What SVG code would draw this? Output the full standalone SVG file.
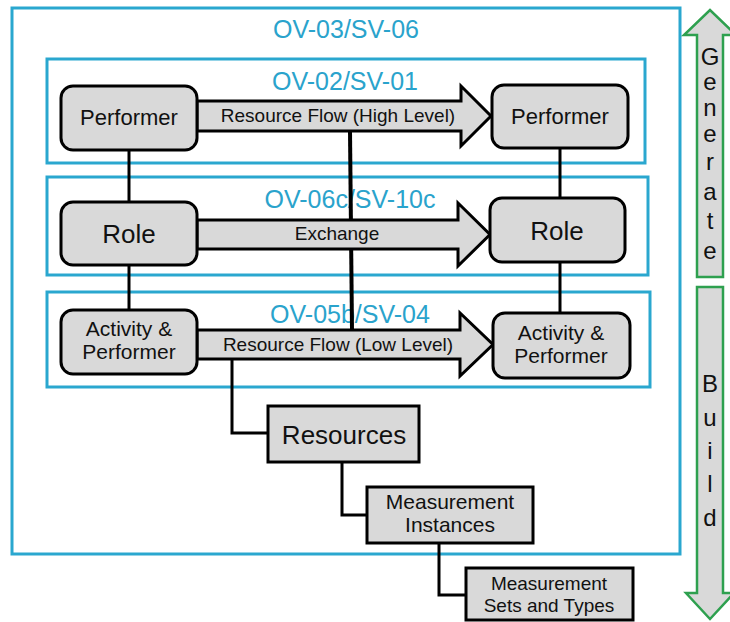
<svg xmlns="http://www.w3.org/2000/svg" width="730" height="622" viewBox="0 0 730 622">
<style>
.frame{fill:none;stroke:#2aa7cf;stroke-width:3}
.title{font-family:"Liberation Sans",Arial,sans-serif;font-size:25px;fill:#2aa3cc;text-anchor:middle}
.node{fill:#d9d9d9;stroke:#000;stroke-width:3}
.lbl{font-family:"Liberation Sans",Arial,sans-serif;fill:#111;text-anchor:middle}
.line{fill:none;stroke:#000;stroke-width:3}
.big{fill:#d9d9d9;stroke:#000;stroke-width:3;stroke-linejoin:miter}
.garrow{fill:#d9d9d9;stroke:#2ea04f;stroke-width:2.5}
.letter{font-family:"Liberation Sans",Arial,sans-serif;font-size:24px;fill:#111;text-anchor:middle}
</style>
<rect width="730" height="622" fill="#fff"/>
<g id="frames">
<rect class="frame" x="12" y="8" width="668" height="546"/>
<text class="title" x="346" y="38">OV-03/SV-06</text>
<rect class="frame" x="47" y="59" width="598" height="104"/>
<text class="title" x="345" y="90">OV-02/SV-01</text>
<rect class="frame" x="47" y="177" width="601" height="98"/>
<text class="title" x="350" y="208">OV-06c/SV-10c</text>
<rect class="frame" x="47" y="292" width="603" height="95"/>
<text class="title" x="350" y="323">OV-05b/SV-04</text>
</g>
<g id="connectors">
<line class="line" x1="129" y1="150" x2="129" y2="202"/>
<line class="line" x1="129" y1="265" x2="129" y2="310"/>
<line class="line" x1="560" y1="148" x2="560" y2="198"/>
<line class="line" x1="560" y1="262" x2="560" y2="313"/>
<line x1="350" y1="131" x2="352" y2="330" stroke="#000" stroke-width="4"/>
<polyline class="line" points="232,359 232,433 268,433"/>
<polyline class="line" points="342,462 342,515 367,515"/>
<polyline class="line" points="439,543 439,595 466,595"/>
<g id="flow-high">
<polygon class="big" points="197,101 461,101 461,86 491,116 461,146 461,131 197,131"/>
<text class="lbl" x="338" y="122" font-size="19">Resource Flow (High Level)</text>
</g>
<g id="exchange">
<polygon class="big" points="197,220 458,220 458,203 490,234.5 458,266 458,249 197,249"/>
<text class="lbl" x="337" y="240" font-size="19">Exchange</text>
</g>
<g id="flow-low">
<polygon class="big" points="197,330 460,330 460,313 493,344.5 460,376 460,359 197,359"/>
<text class="lbl" x="338" y="351" font-size="19">Resource Flow (Low Level)</text>
</g>
</g>
<g id="performer-left">
<rect class="node" x="61" y="86" width="136" height="64" rx="12"/>
<text class="lbl" x="129" y="125" font-size="22">Performer</text>
</g>
<g id="performer-right">
<rect class="node" x="492" y="85" width="136" height="63" rx="12"/>
<text class="lbl" x="560" y="124" font-size="22">Performer</text>
</g>
<g id="role-left">
<rect class="node" x="61" y="202" width="136" height="63" rx="12"/>
<text class="lbl" x="129" y="243" font-size="26">Role</text>
</g>
<g id="role-right">
<rect class="node" x="490" y="198" width="135" height="64" rx="12"/>
<text class="lbl" x="557" y="240" font-size="26">Role</text>
</g>
<g id="activity-left">
<rect class="node" x="61" y="310" width="136" height="64" rx="12"/>
<text class="lbl" x="129" y="336" font-size="21">Activity &amp;</text>
<text class="lbl" x="129" y="359" font-size="21">Performer</text>
</g>
<g id="activity-right">
<rect class="node" x="493" y="313" width="137" height="65" rx="12"/>
<text class="lbl" x="561" y="340" font-size="21">Activity &amp;</text>
<text class="lbl" x="561" y="363" font-size="21">Performer</text>
</g>
<g id="resources">
<rect class="node" x="268" y="406" width="151" height="56" stroke-width="3.5"/>
<text class="lbl" x="344" y="444" font-size="26">Resources</text>
</g>
<g id="measurement-instances">
<rect class="node" x="367" y="487" width="166" height="56" stroke-width="3.5"/>
<text class="lbl" x="450" y="509" font-size="21">Measurement</text>
<text class="lbl" x="450" y="532" font-size="21">Instances</text>
</g>
<g id="measurement-sets">
<rect class="node" x="466" y="568" width="167" height="52" stroke-width="3.5"/>
<text class="lbl" x="549" y="590" font-size="19">Measurement</text>
<text class="lbl" x="549" y="612" font-size="19">Sets and Types</text>
</g>
<g id="generate">
<polygon class="garrow" points="697,277 697,35 684,35 710,10 736,35 723,35 723,277"/>
<text class="letter" x="710" y="65">G</text>
<text class="letter" x="710" y="90">e</text>
<text class="letter" x="710" y="116">n</text>
<text class="letter" x="710" y="142">e</text>
<text class="letter" x="710" y="170">r</text>
<text class="letter" x="710" y="200">a</text>
<text class="letter" x="710" y="229">t</text>
<text class="letter" x="710" y="259">e</text>
</g>
<g id="build">
<polygon class="garrow" points="697,287 723,287 723,593 734,593 710,619 686,593 697,593"/>
<text class="letter" x="710" y="392">B</text>
<text class="letter" x="710" y="426">u</text>
<text class="letter" x="710" y="459">i</text>
<text class="letter" x="710" y="492">l</text>
<text class="letter" x="710" y="526">d</text>
</g>
</svg>
